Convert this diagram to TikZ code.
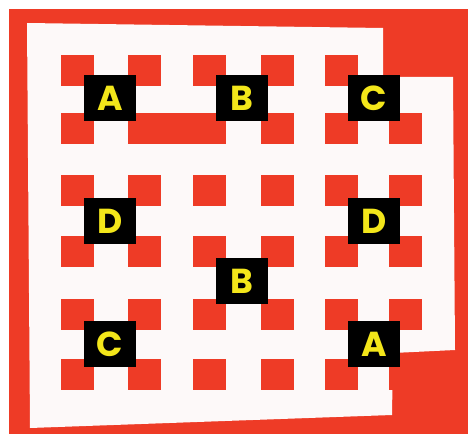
\documentclass[tikz,border=0pt]{standalone}
\usepackage{fontspec}
\newfontfamily\labelfont{Poppins}[UprightFont=*-Bold]
\usepackage{xcolor}
\usepackage{tikz}
\usetikzlibrary{positioning}
\definecolor{gridRed}{HTML}{EE3B26}
\definecolor{tagYellow}{HTML}{F3E61A}
\definecolor{paperWhite}{HTML}{FDF9F9}

\tikzset{
  cell/.style={fill=gridRed},
  tag/.style={fill=black, text=tagYellow, inner sep=0pt, minimum width=39pt, minimum height=34pt, font=\labelfont\fontsize{26}{26}\selectfont}
}

\begin{document}
\begin{tikzpicture}[x=0.75pt, y=-0.75pt]
\useasboundingbox (0,0) rectangle (468,435);
% --- frame ---
\fill[white] (0,0) rectangle (468,435);
\fill[gridRed] (9,9) rectangle (468,434);
\fill[paperWhite] (27,23) -- (383,28) -- (383,77) -- (453,77) -- (455,350) -- (393,353) -- (392,415) -- (30,428) -- cycle;
% --- red squares ---
\foreach \cx in {77,144,209,277,341}
  \fill[cell] (\cx-16.5,71-15.5) rectangle (\cx+16.5,71+15.5);
\foreach \cx in {77,144,209,277,341,405}{
  \foreach \cy in {129,190,251,314,374}{
    \fill[cell] (\cx-16.5,\cy-15.5) rectangle (\cx+16.5,\cy+15.5);
  }
}
\fill[cell] (128,113) rectangle (225,144);
% --- letter tags ---
\node[tag] (tagA1) at (110,98) {A};
\node[tag] (tagB1) at (242,98) {B};
\node[tag] (tagC1) at (374,98) {C};
\node[tag] (tagD1) at (110,221) {D};
\node[tag] (tagD2) at (374,221) {D};
\node[tag] (tagB2) at (242,281) {B};
\node[tag] (tagC2) at (110,344) {C};
\node[tag] (tagA2) at (374,344) {A};
\end{tikzpicture}
\end{document}
